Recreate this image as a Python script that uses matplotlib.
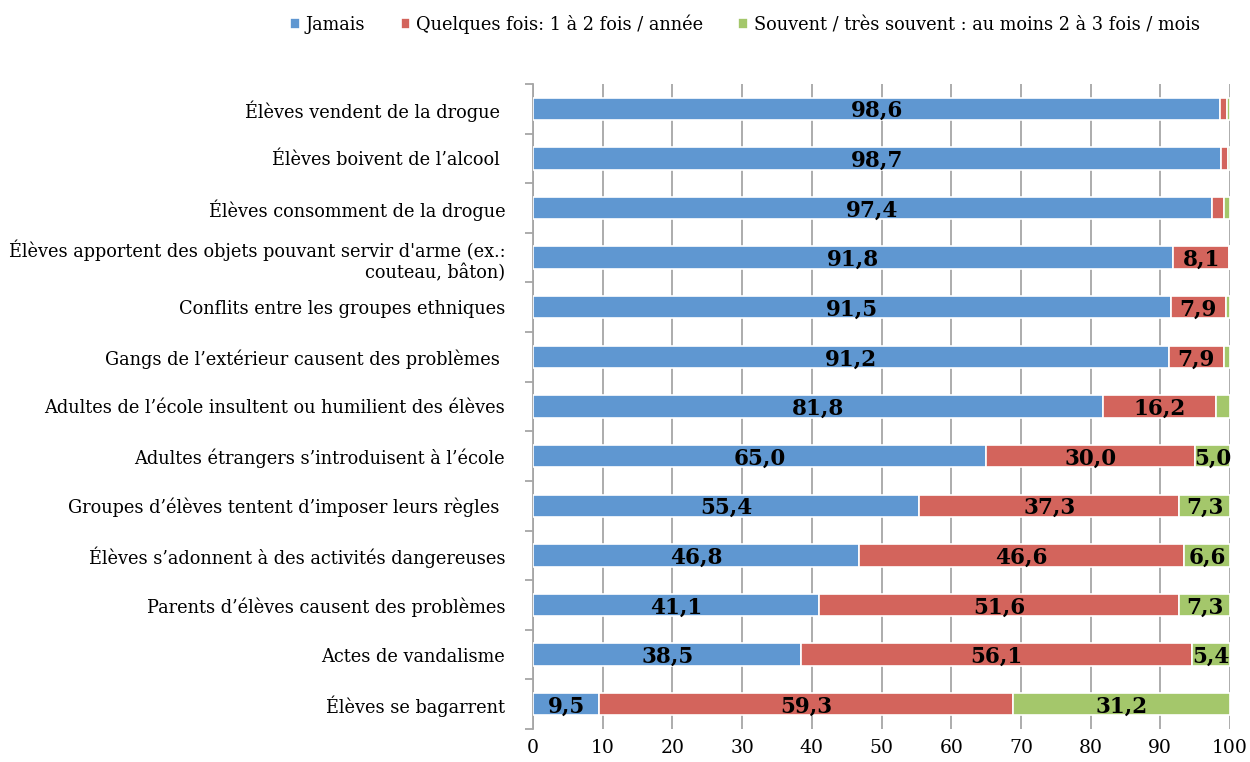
import matplotlib
matplotlib.use("Agg")
import matplotlib.pyplot as plt
import numpy as np

plt.rcParams['font.family'] = ['DejaVu Serif']

categories = [
    "Élèves vendent de la drogue ",
    "Élèves boivent de l’alcool ",
    "Élèves consomment de la drogue",
    "Élèves apportent des objets pouvant servir d'arme (ex.:\ncouteau, bâton)",
    "Conflits entre les groupes ethniques",
    "Gangs de l’extérieur causent des problèmes ",
    "Adultes de l’école insultent ou humilient des élèves",
    "Adultes étrangers s’introduisent à l’école",
    "Groupes d’élèves tentent d’imposer leurs règles ",
    "Élèves s’adonnent à des activités dangereuses",
    "Parents d’élèves causent des problèmes",
    "Actes de vandalisme",
    "Élèves se bagarrent",
]
jamais = [98.6, 98.7, 97.4, 91.8, 91.5, 91.2, 81.8, 65.0, 55.4, 46.8, 41.1, 38.5, 9.5]
quelques = [0.9, 1.0, 1.7, 8.1, 7.9, 7.9, 16.2, 30.0, 37.3, 46.6, 51.6, 56.1, 59.3]
souvent = [0.5, 0.3, 0.9, 0.1, 0.6, 0.9, 2.0, 5.0, 7.3, 6.6, 7.3, 5.4, 31.2]
series_names = ["Jamais", "Quelques fois: 1 à 2 fois / année",
                "Souvent / très souvent : au moins 2 à 3 fois / mois"]
colors = ["#5F97D1", "#D3645C", "#A4C76B"]
xticks = [0, 10, 20, 30, 40, 50, 60, 70, 80, 90, 100]

fig = plt.figure(figsize=(12.5, 7.62), dpi=100)
ax = fig.add_axes([0.4264, 0.0433, 0.984 - 0.4264, 0.8465])

y = np.arange(len(categories))
left = np.zeros(len(categories))
for vals, name, col in zip([jamais, quelques, souvent], series_names, colors):
    vals = np.array(vals)
    ax.barh(y, vals, left=left, height=0.45, color=col,
            edgecolor="white", linewidth=1.2, label=name, zorder=3)
    for yi, l, v in zip(y, left, vals):
        if v >= 5:
            ax.text(l + v / 2, yi + 0.05, f"{v:.1f}".replace(".", ","),
                    ha="center", va="center", fontsize=15.5,
                    fontweight="bold", color="black", zorder=4)
    left = left + vals

ax.set_ylim(len(categories) - 0.5, -0.5)
ax.set_xlim(0, 100)
ax.set_xticks(xticks)
ax.set_xticklabels([str(t) for t in xticks], fontsize=13.5)
ax.set_yticks(y)
ax.set_yticklabels(categories, fontsize=12.8)
ax.set_yticks(np.arange(len(categories) + 1) - 0.5, minor=True)
ax.tick_params(axis="y", which="major", length=0, pad=20)
ax.tick_params(axis="y", which="minor", length=6, width=1.3,
               color="#A6A6A6", direction="out")
ax.tick_params(axis="x", length=0, pad=7)
ax.xaxis.grid(True, color="#A6A6A6", linewidth=1.3, zorder=0)
for side in ["top", "right", "bottom"]:
    ax.spines[side].set_visible(False)
ax.spines["left"].set_color("#A6A6A6")
ax.spines["left"].set_linewidth(1.3)

fig.legend(loc="center", bbox_to_anchor=(0.596, 0.968), ncol=3,
           frameon=False, fontsize=12.8, handlelength=0.55,
           handleheight=0.55, handletextpad=0.3, columnspacing=2.0)

fig.savefig("out.png", dpi=100)
